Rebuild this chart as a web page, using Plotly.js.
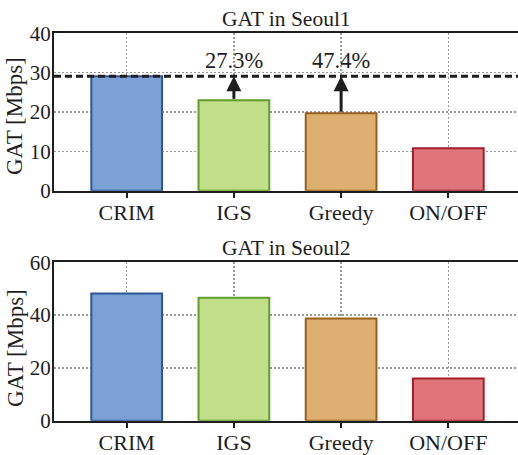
<!DOCTYPE html>
<html>
<head>
<meta charset="utf-8">
<script src="https://cdn.plot.ly/plotly-3.0.1.min.js"></script>
<style>html,body{margin:0;padding:0;background:#fff}#chart{width:518px;height:455px}</style>
</head>
<body>
<div id="chart"></div>
<script>
const categories = ["CRIM", "IGS", "Greedy", "ON/OFF"];
const seoul1 = [29.1, 23.0, 19.7, 10.8];
const seoul2 = [48.2, 46.6, 38.7, 16.0];
const improvements = ["27.3%", "47.4%"];
const improvedIdx = [1, 2];
const seoul1Ticks = [0, 10, 20, 30, 40];
const seoul2Ticks = [0, 20, 40, 60];
const fillColors = ["#7ba0d5", "#c1de89", "#ddaf70", "#df747b"];
const lineColors = ["#2f5597", "#5f9c2d", "#97601c", "#a31f2c"];

const W = 518, H = 455;
const FONT = "Liberation Serif";
const INK = "#1e1e1e";

function py(px) { return 1 - px / H; }
function pxX(px) { return px / W; }

const traces = [
  {type: "bar", x: categories, y: seoul1, xaxis: "x", yaxis: "y",
   marker: {color: fillColors, line: {color: lineColors, width: 2}}, hoverinfo: "skip"},
  {type: "bar", x: categories, y: seoul2, xaxis: "x2", yaxis: "y2",
   marker: {color: fillColors, line: {color: lineColors, width: 2}}, hoverinfo: "skip"}
];

const xCommon = {
  type: "category", range: [-0.678, 3.65], domain: [pxX(54), 1],
  showline: true, linecolor: INK, linewidth: 2, mirror: true,
  ticks: "outside", ticklen: 5, tickwidth: 2, tickcolor: INK, ticklabelstandoff: -4,
  showgrid: true, gridcolor: "#999", gridwidth: 1.5, griddash: "2px,2px",
  tickfont: {family: FONT, size: 22, color: INK}, zeroline: false, fixedrange: true
};
const yCommon = {
  showline: true, linecolor: INK, linewidth: 2, ticks: "", ticklabelstandoff: -3,
  showgrid: true, gridcolor: "#999", gridwidth: 1.5, griddash: "2px,2px",
  tickfont: {family: FONT, size: 21, color: INK}, zeroline: false, fixedrange: true
};

const layout = {
  width: W, height: H, margin: {l: 0, r: 0, t: 0, b: 0},
  font: {family: FONT, color: INK},
  paper_bgcolor: "#fff", plot_bgcolor: "#fff", showlegend: false, bargap: 0.34,
  xaxis: Object.assign({}, xCommon, {anchor: "y"}),
  yaxis: Object.assign({}, yCommon, {anchor: "x", domain: [py(190.7), py(33.3)], range: [0, 40], tickvals: seoul1Ticks}),
  xaxis2: Object.assign({}, xCommon, {anchor: "y2"}),
  yaxis2: Object.assign({}, yCommon, {anchor: "x2", domain: [py(420.7), py(262.3)], range: [0, 60], tickvals: seoul2Ticks}),
  shapes: [
    {type: "line", xref: "x domain", yref: "y", x0: 0, x1: 1, y0: seoul1[0], y1: seoul1[0],
     line: {color: INK, width: 3, dash: "7px,4px"}, layer: "above"}
  ],
  annotations: [
    {text: "GAT in Seoul1", xref: "paper", yref: "paper", x: pxX(286), y: py(19), xanchor: "center", yanchor: "middle",
     showarrow: false, font: {family: FONT, size: 21.5, color: INK}},
    {text: "GAT in Seoul2", xref: "paper", yref: "paper", x: pxX(286), y: py(248), xanchor: "center", yanchor: "middle",
     showarrow: false, font: {family: FONT, size: 21.5, color: INK}},
    {text: "GAT [Mbps]", xref: "paper", yref: "paper", x: pxX(15), y: py(116), xanchor: "center", yanchor: "middle",
     textangle: -90, showarrow: false, font: {family: FONT, size: 23, color: INK}},
    {text: "GAT [Mbps]", xref: "paper", yref: "paper", x: pxX(15), y: py(348), xanchor: "center", yanchor: "middle",
     textangle: -90, showarrow: false, font: {family: FONT, size: 23, color: INK}}
  ]
};

improvedIdx.forEach((idx, k) => {
  layout.annotations.push({
    text: improvements[k], xref: "x", yref: "y", x: categories[idx], y: 33.2,
    xanchor: "center", yanchor: "middle", showarrow: false,
    font: {family: FONT, size: 22.5, color: INK}
  });
  layout.annotations.push({
    text: "", xref: "x", yref: "y", axref: "x", ayref: "y",
    x: categories[idx], y: seoul1[0], ax: categories[idx], ay: seoul1[idx],
    showarrow: true, arrowhead: 2, arrowsize: 1, arrowwidth: 3, arrowcolor: INK, standoff: 0
  });
});

Plotly.newPlot("chart", traces, layout, {staticPlot: true, displayModeBar: false});
</script>
</body>
</html>
